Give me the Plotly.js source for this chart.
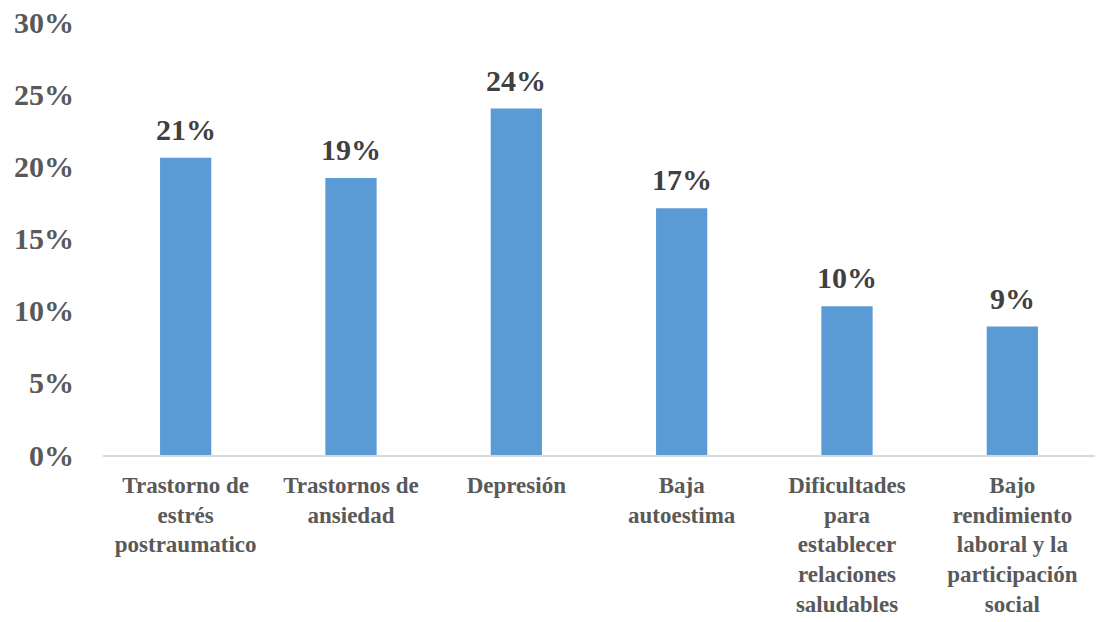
<!DOCTYPE html>
<html>
<head>
<meta charset="utf-8">
<script src="https://cdn.plot.ly/plotly-3.0.1.min.js"></script>
<style>
html,body{margin:0;padding:0;background:#fff;}
</style>
</head>
<body>
<div id="chart" style="width:1096px;height:622px"></div>
<script>
const categories = [
  "Trastorno de<br>estrés<br>postraumatico",
  "Trastornos de<br>ansiedad",
  "Depresión",
  "Baja<br>autoestima",
  "Dificultades<br>para<br>establecer<br>relaciones<br>saludables",
  "Bajo<br>rendimiento<br>laboral y la<br>participación<br>social"
];
const values = [0.206, 0.192, 0.240, 0.171, 0.103, 0.089];
const valueLabels = ["21%", "19%", "24%", "17%", "10%", "9%"];
const yTickValues = [0, 0.05, 0.10, 0.15, 0.20, 0.25, 0.30];
const yTickLabels = ["0%", "5%", "10%", "15%", "20%", "25%", "30%"];

const serifFamily = 'Liberation Serif';

const annotations = categories.map(function (c, i) {
  return {
    x: c, y: values[i], xref: 'x', yref: 'y',
    text: valueLabels[i], showarrow: false,
    yanchor: 'bottom', yshift: 10,
    font: {family: serifFamily, size: 30, color: '#404040', weight: 'bold'}
  };
});

Plotly.newPlot('chart', [{
  type: 'bar',
  x: categories,
  y: values,
  marker: {color: '#5B9BD5'},
  hoverinfo: 'skip'
}], {
  width: 1096, height: 622,
  margin: {l: 103, r: 1, t: 22, b: 167},
  paper_bgcolor: '#ffffff', plot_bgcolor: '#ffffff',
  bargap: 0.69,
  showlegend: false,
  font: {family: serifFamily, size: 24, weight: 'bold', color: '#595959'},
  annotations: annotations,
  xaxis: {
    showline: true, linecolor: '#D9D9D9', linewidth: 2,
    ticks: '', showgrid: false,
    tickfont: {family: serifFamily, size: 23, color: '#595959', weight: 'bold'},
    tickangle: 0,
    ticklabelstandoff: 8
  },
  yaxis: {
    range: [0, 0.30],
    tickvals: yTickValues, ticktext: yTickLabels,
    showgrid: false, zeroline: false, showline: false, ticks: '',
    tickfont: {family: serifFamily, size: 30, color: '#595959', weight: 'bold'},
    ticklabelstandoff: 28
  }
}, {displayModeBar: false});
</script>
</body>
</html>
